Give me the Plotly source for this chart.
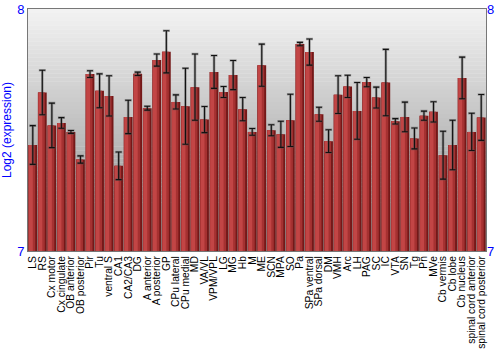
import plotly.graph_objects as go

categories = ["LS", "RS", "Cx motor", "Cx cingulate", "OB anterior", "OB posterior", "Pir", "Tu",
              "ventral S", "CA1", "CA2/CA3", "DG", "A anterior", "A posterior", "GP", "CPu lateral",
              "CPu medial", "MD", "VA/VL", "VPM/VPL", "LG", "MG", "Hb", "M", "ME", "SCN", "MPA", "SO",
              "Pa", "SPa ventral", "SPa dorsal", "DM", "VMH", "Arc", "LH", "PAG", "SC", "IC", "VTA",
              "SN", "Tg", "Pn", "MVe", "Cb vermis", "Cb lobe", "Cb nucleus", "spinal cord anterior",
              "spinal cord posterior"]
values = [7.438, 7.655, 7.519, 7.529, 7.492, 7.378, 7.731, 7.662,
          7.641, 7.352, 7.554, 7.732, 7.590, 7.789, 7.823, 7.616,
          7.598, 7.677, 7.543, 7.740, 7.657, 7.727, 7.586, 7.492,
          7.768, 7.499, 7.482, 7.540, 7.855, 7.822, 7.565, 7.454,
          7.646, 7.680, 7.579, 7.698, 7.634, 7.696, 7.536, 7.554,
          7.465, 7.559, 7.575, 7.396, 7.438, 7.715, 7.492, 7.552]
errors = [0.080, 0.092, 0.092, 0.022, 0.006, 0.015, 0.014, 0.070,
          0.083, 0.057, 0.069, 0.007, 0.008, 0.025, 0.087, 0.029,
          0.157, 0.137, 0.054, 0.068, 0.023, 0.060, 0.048, 0.014,
          0.087, 0.023, 0.054, 0.108, 0.007, 0.054, 0.029, 0.047,
          0.078, 0.046, 0.117, 0.019, 0.043, 0.137, 0.011, 0.061,
          0.043, 0.019, 0.042, 0.099, 0.102, 0.086, 0.077, 0.095]
y_ticks = [7, 8]

idx = list(range(len(categories)))
base = [7] * len(values)
heights = [v - 7 for v in values]

fig = go.Figure()
# bar body with horizontal shading (dark base, lighter overlays)
fig.add_trace(go.Bar(x=idx, y=heights, base=base, width=0.92,
                     marker=dict(color="#741818", line=dict(width=0)), hoverinfo="skip"))
fig.add_trace(go.Bar(x=idx, y=heights, base=base, width=0.72, offset=-0.46,
                     marker=dict(color="#a53131", line=dict(width=0)), hoverinfo="skip"))
fig.add_trace(go.Bar(x=idx, y=heights, base=base, width=0.40, offset=-0.40,
                     marker=dict(color="#c24545", line=dict(width=0)), hoverinfo="skip"))
# error bars: soft gray halo + black core
fig.add_trace(go.Scatter(x=idx, y=values, mode="markers",
                         marker=dict(size=1, color="rgba(0,0,0,0)"),
                         error_y=dict(type="data", array=errors, visible=True,
                                      color="rgba(80,80,80,0.45)", thickness=2.6, width=3.5),
                         hoverinfo="skip"))
fig.add_trace(go.Scatter(x=idx, y=values, mode="markers",
                         marker=dict(size=1, color="rgba(0,0,0,0)"),
                         error_y=dict(type="data", array=errors, visible=True,
                                      color="#111111", thickness=1.1, width=3),
                         hoverinfo="skip"))
# invisible trace for right axis
fig.add_trace(go.Scatter(x=[idx[0]], y=[values[0]], yaxis="y2", mode="markers",
                         marker=dict(size=1, color="rgba(0,0,0,0)"), hoverinfo="skip"))

# vertical gradient background
n = 60
shapes = []
top_c = (242, 242, 242)
bot_c = (140, 140, 140)
for i in range(n):
    t = i / (n - 1)
    c = tuple(int(round(top_c[k] + (bot_c[k] - top_c[k]) * t)) for k in range(3))
    y1 = 1 - i / n
    y0 = 1 - (i + 1) / n
    shapes.append(dict(type="rect", xref="paper", yref="paper", x0=0, x1=1,
                       y0=y0 - 0.001, y1=y1, fillcolor="rgb(%d,%d,%d)" % c,
                       line=dict(width=0), layer="below"))

fig.update_layout(
    width=500, height=350,
    margin=dict(l=28, r=14, t=9, b=99),
    barmode="overlay", bargap=0.08,
    showlegend=False,
    paper_bgcolor="white", plot_bgcolor="white",
    font=dict(family="Liberation Sans, Arial, sans-serif"),
    shapes=shapes,
    xaxis=dict(tickmode="array", tickvals=idx, ticktext=categories, tickangle=-90,
               tickfont=dict(size=10.3, color="black"), range=[-0.5, len(idx) - 0.5],
               showgrid=False, zeroline=False, showline=True, linecolor="#777777",
               linewidth=1, mirror=True, ticks="", ticklen=0, automargin=False),
    yaxis=dict(range=[7, 8], tickvals=y_ticks, ticktext=[str(v) for v in y_ticks],
               tickfont=dict(size=13, color="#0000ff"), showgrid=False, zeroline=False,
               showline=True, linecolor="#777777", linewidth=1, mirror=True, ticks="",
               automargin=False,
               title=dict(text="Log2 (expression)", font=dict(size=12, color="#0000ff"),
                          standoff=2)),
    yaxis2=dict(range=[7, 8], tickvals=y_ticks, ticktext=[str(v) for v in y_ticks],
                overlaying="y", side="right", tickfont=dict(size=13, color="#0000ff"),
                showgrid=False, zeroline=False, ticks="", showline=False, automargin=False),
)

fig.write_html("out.html")
